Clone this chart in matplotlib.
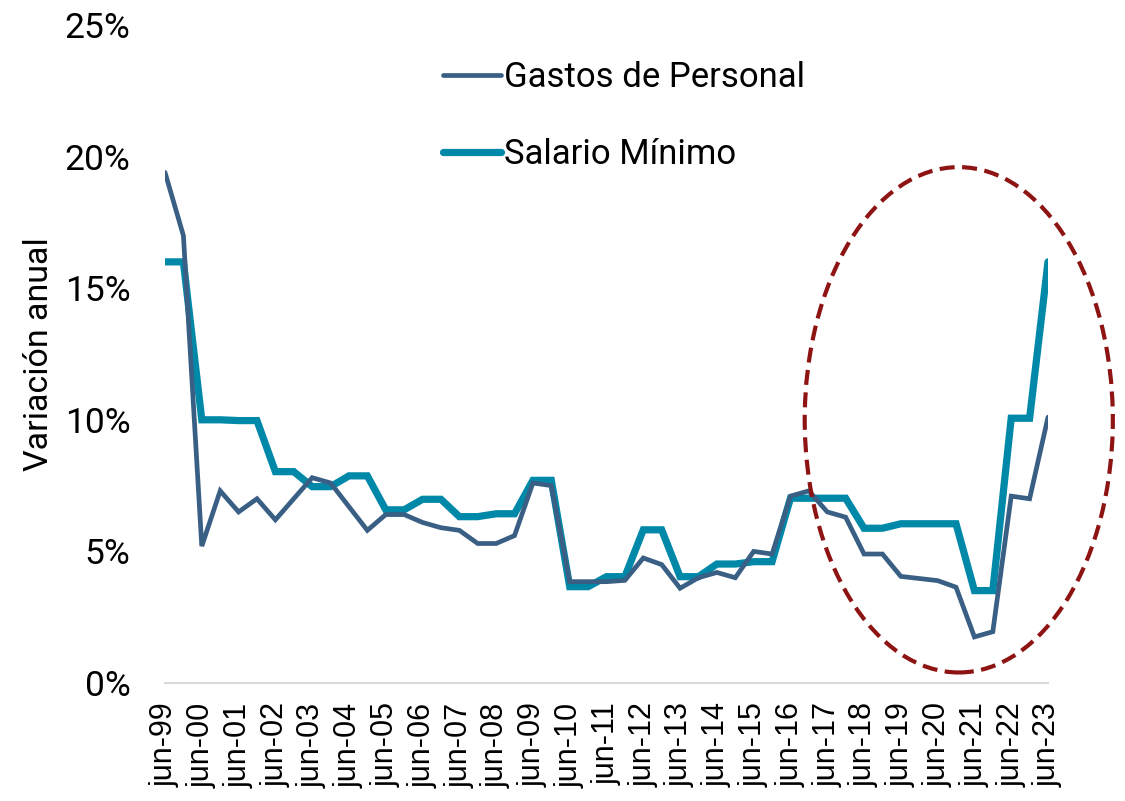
import matplotlib
matplotlib.use("Agg")
import matplotlib.pyplot as plt
from matplotlib.patches import Ellipse
from matplotlib.ticker import FuncFormatter

# semiannual observations, jun-99 .. jun-23
years = ["99"] + [f"{y:02d}" for y in range(0, 24)]
periods = []
for i, yy in enumerate(years):
    periods.append(f"jun-{yy}")
    if i < len(years) - 1:
        periods.append(f"dic-{yy}")

gastos = [19.4, 17.0, 5.2, 7.3, 6.5, 7.0, 6.2, 7.0, 7.8, 7.6,
          6.7, 5.8, 6.4, 6.4, 6.1, 5.9, 5.8, 5.3, 5.3, 5.6,
          7.6, 7.5, 3.85, 3.85, 3.85, 3.9, 4.75, 4.5, 3.6, 4.0,
          4.2, 4.0, 5.0, 4.9, 7.1, 7.3, 6.5, 6.3, 4.9, 4.9,
          4.05, 3.97, 3.89, 3.64, 1.75, 1.95, 7.1, 7.0, 10.1]
salario = [16.0, 16.0, 10.0, 10.0, 9.97, 9.97, 8.03, 8.03, 7.46, 7.46,
           7.87, 7.87, 6.58, 6.58, 6.98, 6.98, 6.32, 6.32, 6.43, 6.43,
           7.7, 7.7, 3.66, 3.66, 4.04, 4.04, 5.82, 5.82, 4.04, 4.04,
           4.52, 4.52, 4.61, 4.61, 7.02, 7.02, 7.02, 7.02, 5.88, 5.88,
           6.05, 6.05, 6.05, 6.05, 3.51, 3.51, 10.06, 10.06, 16.0]

C_GASTOS = "#3A5F85"
C_SALARIO = "#0088A8"
C_CIRCLE = "#8E1414"

plt.rcParams["font.family"] = ["Roboto", "DejaVu Sans"]

W, H = 1125, 801
fig = plt.figure(figsize=(W / 100, H / 100), dpi=100)
ax = fig.add_axes([165 / W, 1 - 683 / H, (1048 - 165) / W, (683 - 25) / H])

x = list(range(len(periods)))
ax.plot(x, gastos, color=C_GASTOS, lw=3.4, label="Gastos de Personal",
        solid_joinstyle="miter", solid_capstyle="round", zorder=3)
ax.plot(x, salario, color=C_SALARIO, lw=5.2, label="Salario Mínimo",
        solid_joinstyle="miter", solid_capstyle="round", zorder=2)

ax.set_xlim(0, len(periods) - 1)
ax.set_ylim(0, 25)
ax.set_yticks([0, 5, 10, 15, 20, 25])
ax.yaxis.set_major_formatter(FuncFormatter(lambda v, _: f"{v:.0f}%"))
ax.set_xticks(x[::2])
ax.set_xticklabels(periods[::2], rotation=90, fontsize=22,
                   family=["Liberation Sans", "DejaVu Sans"], va="top")
ax.tick_params(axis="x", length=0, pad=14)
ax.tick_params(axis="y", length=0, pad=25, labelsize=25.5)

for s in ["top", "right", "left"]:
    ax.spines[s].set_visible(False)
ax.spines["bottom"].set_color("#D9D9D9")
ax.spines["bottom"].set_linewidth(1.5)

ax.set_ylabel("Variación anual", fontsize=24.5)
ax.yaxis.set_label_coords(-110 / (1048 - 165), 0.5)

# highlight on recent years
ell = Ellipse((43.15, 10.0), width=16.75, height=19.2, fill=False,
              edgecolor=C_CIRCLE, lw=3.0, linestyle=(0, (3.6, 1.8)),
              clip_on=False, zorder=4)
ax.add_patch(ell)

leg = ax.legend(loc="upper left", bbox_to_anchor=(426 / W, 1 - 44 / H),
                bbox_transform=fig.transFigure, frameon=False, fontsize=25,
                handlelength=1.65, handletextpad=0.1, labelspacing=1.25,
                borderpad=0)
for h in leg.get_lines():
    h.set_solid_capstyle("round")

fig.savefig("out.png", dpi=100)
